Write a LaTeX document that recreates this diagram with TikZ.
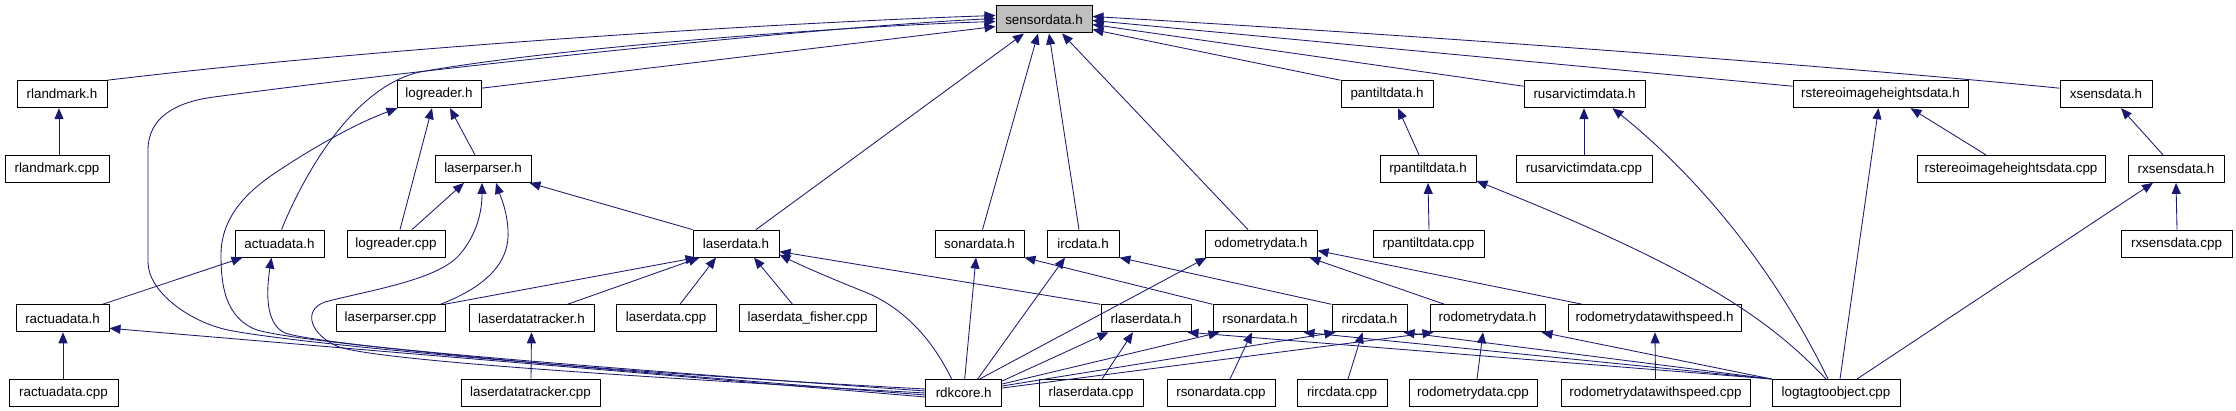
\documentclass[tikz,border=0pt]{standalone}
\usepackage{fontspec}
\setmainfont{Liberation Sans}
\usetikzlibrary{arrows.meta}
\definecolor{dxblue}{RGB}{25,25,112}
\definecolor{dxgray}{RGB}{191,191,191}
\begin{document}
\begin{tikzpicture}[x=1pt,y=-1pt,
  box/.style={draw=black,line width=1pt,fill=white,minimum height=27pt,inner sep=0pt,font=\fontsize{13.4}{15}\selectfont},
  dep/.style={draw=dxblue,line width=0.85pt,-{Triangle[length=11pt,width=9pt]}}]
\useasboundingbox (0,0) rectangle (2236,411);
% row 0
\node[box,minimum width=96pt,fill=dxgray] (sd) at (1044,19.5) {sensordata.h};
% row 1
\node[box,minimum width=90pt] (rlh) at (62,94.2) {rlandmark.h};
\node[box,minimum width=84pt] (lrh) at (439,94.2) {logreader.h};
\node[box,minimum width=92pt] (pth) at (1387,94.2) {pantiltdata.h};
\node[box,minimum width=121pt] (ruh) at (1584.5,94.2) {rusarvictimdata.h};
\node[box,minimum width=175pt] (rsh) at (1880.5,94.2) {rstereoimageheightsdata.h};
\node[box,minimum width=92pt] (xsh) at (2106,94.2) {xsensdata.h};
% row 2
\node[box,minimum width=104pt] (rlc) at (57,168.9) {rlandmark.cpp};
\node[box,minimum width=96pt] (lph) at (483,168.9) {laserparser.h};
\node[box,minimum width=96pt] (rpth) at (1428,168.9) {rpantiltdata.h};
\node[box,minimum width=136pt] (ruc) at (1584,168.9) {rusarvictimdata.cpp};
\node[box,minimum width=188pt] (rsc) at (2011,168.9) {rstereoimageheightsdata.cpp};
\node[box,minimum width=96pt] (rxh) at (2176,168.9) {rxsensdata.h};
% row 3
\node[box,minimum width=89pt] (ach) at (279.5,243.6) {actuadata.h};
\node[box,minimum width=98pt] (lrc) at (396,243.6) {logreader.cpp};
\node[box,minimum width=86pt] (ldh) at (736,243.6) {laserdata.h};
\node[box,minimum width=89pt] (soh) at (979.5,243.6) {sonardata.h};
\node[box,minimum width=72pt] (irh) at (1083,243.6) {ircdata.h};
\node[box,minimum width=112pt] (odh) at (1261,243.6) {odometrydata.h};
\node[box,minimum width=111pt] (rptc) at (1428.5,243.6) {rpantiltdata.cpp};
\node[box,minimum width=111pt] (rxc) at (2176.5,243.6) {rxsensdata.cpp};
% row 4
\node[box,minimum width=93pt] (rach) at (62.5,318.3) {ractuadata.h};
\node[box,minimum width=109pt] (lpc) at (390.5,318.3) {laserparser.cpp};
\node[box,minimum width=125pt] (ldth) at (531.5,318.3) {laserdatatracker.h};
\node[box,minimum width=100pt] (ldc) at (666,318.3) {laserdata.cpp};
\node[box,minimum width=137pt] (ldf) at (807.5,318.3) {laserdata\_fisher.cpp};
\node[box,minimum width=90pt] (rldh) at (1146,318.3) {rlaserdata.h};
\node[box,minimum width=94pt] (rsoh) at (1260,318.3) {rsonardata.h};
\node[box,minimum width=75pt] (rirh) at (1369.5,318.3) {rircdata.h};
\node[box,minimum width=115pt] (rodh) at (1487.5,318.3) {rodometrydata.h};
\node[box,minimum width=173pt] (rodsh) at (1654.5,318.3) {rodometrydatawithspeed.h};
% row 5
\node[box,minimum width=109pt] (racc) at (63.5,393) {ractuadata.cpp};
\node[box,minimum width=139pt] (ldtc) at (530.5,393) {laserdatatracker.cpp};
\node[box,minimum width=76pt] (rdk) at (963.7,393) {rdkcore.h};
\node[box,minimum width=104pt] (rldc) at (1091,393) {rlaserdata.cpp};
\node[box,minimum width=108pt] (rsoc) at (1221,393) {rsonardata.cpp};
\node[box,minimum width=90pt] (rirc) at (1342,393) {rircdata.cpp};
\node[box,minimum width=128pt] (rodc) at (1473,393) {rodometrydata.cpp};
\node[box,minimum width=189pt] (rodsc) at (1655.5,393) {rodometrydatawithspeed.cpp};
\node[box,minimum width=128pt] (ltc) at (1836,393) {logtagtoobject.cpp};

% edges into sensordata.h
\draw[dep] (rlh.north east) .. controls (400,45) and (800,22) .. ([yshift=4pt]sd.west);
\draw[dep] ([yshift=4pt]rdk.west) .. controls (600,372) and (290,343) .. (228,330)
  .. controls (190,322) and (148,292) .. (148,262) -- (148,150)
  .. controls (148,118) and (175,102) .. (214,97)
  .. controls (400,72) and (800,28) .. ([yshift=1pt]sd.west);
\draw[dep] ([xshift=2pt]ach.north) .. controls (310,160) and (360,85) .. (420,72)
  .. controls (560,47) and (850,26) .. ([yshift=-2pt]sd.west);
\draw[dep] ([yshift=6pt]lrh.east) -- ([yshift=-7pt]sd.west);
\draw[dep] ([xshift=20pt]ldh.north) -- ([xshift=-20pt]sd.south);
\draw[dep] ([xshift=3pt]soh.north) -- ([xshift=-6pt]sd.south);
\draw[dep] ([xshift=-4pt]irh.north) -- ([xshift=5pt]sd.south);
\draw[dep] ([xshift=-13pt]odh.north) -- ([xshift=18pt]sd.south);
\draw[dep] (pth.north west) -- ([yshift=-10pt]sd.east);
\draw[dep] ([yshift=8pt]ruh.west) -- ([yshift=-5pt]sd.east);
\draw[dep] ([yshift=8pt]rsh.west) -- ([yshift=-1pt]sd.east);
\draw[dep] ([yshift=6pt]xsh.west) .. controls (1900,72) and (1500,40) .. ([yshift=3pt]sd.east);

% left part
\draw[dep] ([xshift=2pt]rlc.north) -- ([xshift=-3pt]rlh.south);
\draw[dep] ([xshift=4pt]lrc.north) -- ([xshift=-7pt]lrh.south);
\draw[dep] ([xshift=-8pt]lph.north) -- ([xshift=11pt]lrh.south);
\draw[dep] ([yshift=2pt]rdk.west) .. controls (600,368) and (310,345) .. (257,330)
  .. controls (225,318) and (221,285) .. (221,255)
  .. controls (221,215) and (250,190) .. (275,173)
  .. controls (320,143) and (360,122) .. ([xshift=1pt]lrh.south west);
\draw[dep] ([xshift=16pt]lrc.north) -- ([xshift=-19pt]lph.south);
\draw[dep] (rdk.west) .. controls (600,375) and (380,360) .. (339,347)
  .. controls (310,335) and (302,310) .. (325,302)
  .. controls (370,290) and (440,280) .. (461,253)
  .. controls (478,232) and (482,210) .. ([xshift=-1pt]lph.south);
\draw[dep] ([xshift=50pt]lpc.north) .. controls (490,285) and (510,260) .. (508,230)
  .. controls (507,210) and (500,195) .. ([xshift=13pt]lph.south);
\draw[dep] (ldh.north west) -- ([xshift=-2pt]lph.south east);
\draw[dep] ([xshift=40pt]rach.north) -- ([xshift=-37pt]ach.south);
\draw[dep] ([yshift=-2pt]rdk.west) .. controls (600,370) and (320,345) .. (285,333)
  .. controls (268,325) and (265,300) .. ([xshift=-8pt]ach.south);
\draw[dep] ([xshift=-0.5pt]racc.north) -- ([xshift=0.5pt]rach.south);
\draw[dep] ([yshift=-4pt]rdk.west) -- ([yshift=-10pt]rach.east);

% laserdata.h
\draw[dep] ([xshift=54pt]lpc.north) -- ([xshift=4pt]ldh.south west);
\draw[dep] ([xshift=36pt]ldth.north) -- ([xshift=7pt]ldh.south west);
\draw[dep] ([xshift=14pt]ldc.north) -- ([xshift=-20pt]ldh.south);
\draw[dep] ([xshift=-15pt]ldf.north) -- ([xshift=18pt]ldh.south);
\draw[dep] ([xshift=-12pt]rdk.north) .. controls (930,335) and (900,305) .. (860,290)
  .. controls (830,278) and (800,265) .. ([yshift=3pt]ldh.south east);
\draw[dep] (rldh.north west) -- ([yshift=-8pt]ldh.east);
\draw[dep] ([xshift=0.5pt]ldtc.north) -- (ldth.south);

% sonardata, ircdata, odometrydata
\draw[dep] ([xshift=1pt]rdk.north) -- ([xshift=-3.5pt]soh.south);
\draw[dep] (rsoh.north west) -- (soh.south east);
\draw[dep] ([xshift=14pt]rdk.north) -- ([xshift=-18pt]irh.south);
\draw[dep] (rirh.north west) -- (irh.south east);
\draw[dep] ([xshift=16pt]rdk.north) -- ([xshift=2pt]odh.south west);
\draw[dep] ([xshift=-43pt]rodh.north) -- ([xshift=-8pt]odh.south east);
\draw[dep] ([xshift=15pt]rodsh.north west) -- ([yshift=-7pt]odh.east);

% right upper part
\draw[dep] ([xshift=-9pt]rpth.north) -- ([xshift=11pt]pth.south);
\draw[dep] ([xshift=0.5pt]rptc.north) -- (rpth.south);
\draw[dep] ([xshift=-10pt]ltc.north) .. controls (1770,320) and (1700,270) .. ([yshift=2pt]rpth.south east);
\draw[dep] (ruc.north) -- ([xshift=-0.5pt]ruh.south);
\draw[dep] ([xshift=-8pt]ltc.north) .. controls (1770,260) and (1690,170) .. ([xshift=28pt]ruh.south);
\draw[dep] ([xshift=4pt]ltc.north) -- ([xshift=-2pt]rsh.south);
\draw[dep] ([xshift=-25pt]rsc.north) -- ([xshift=30pt]rsh.south);
\draw[dep] ([xshift=-13pt]rxh.north) -- ([xshift=15pt]xsh.south);
\draw[dep] ([xshift=0.5pt]rxc.north) -- (rxh.south);
\draw[dep] ([xshift=21pt]ltc.north) -- ([xshift=-23pt]rxh.south);

% bottom part
\draw[dep] ([yshift=-2pt]rdk.north east) -- ([xshift=8pt]rldh.south west);
\draw[dep] ([xshift=11pt]rldc.north) -- ([xshift=-13pt]rldh.south);
\draw[dep] ([yshift=9pt]rdk.east) -- ([xshift=7pt]rsoh.south west);
\draw[dep] ([xshift=9pt]rsoc.north) -- ([xshift=-8pt]rsoh.south);
\draw[dep] ([yshift=7pt]rdk.east) -- ([xshift=4pt]rirh.south west);
\draw[dep] ([xshift=6pt]rirc.north) -- ([xshift=-7pt]rirh.south);
\draw[dep] ([yshift=5pt]rdk.east) -- ([xshift=4pt]rodh.south west);
\draw[dep] ([xshift=4pt]rodc.north) -- ([xshift=-4.5pt]rodh.south);
\draw[dep] (rodsc.north) -- ([xshift=0.5pt]rodsh.south);
\draw[dep] (ltc.north west) -- ([xshift=-4pt]rodh.south east);
\draw[dep] (ltc.north west) -- ([xshift=-4pt]rldh.south east);
\draw[dep] (ltc.north west) -- ([xshift=-4pt]rsoh.south east);
\draw[dep] (ltc.north west) -- ([xshift=-4pt]rirh.south east);
\end{tikzpicture}
\end{document}
